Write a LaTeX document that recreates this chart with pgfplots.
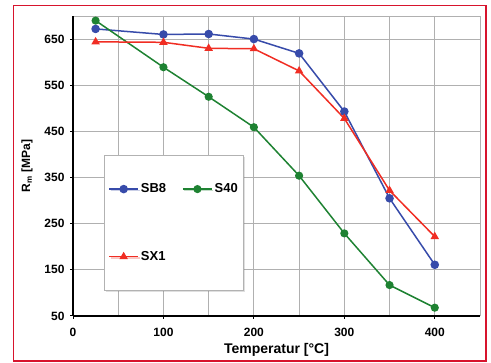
\documentclass[border=0pt]{standalone}
\usepackage{fontspec}
\setmainfont{Liberation Sans}
\usepackage{pgfplots}
\pgfplotsset{compat=1.18}
\usetikzlibrary{shadows}
\definecolor{cblue}{RGB}{55,75,170}
\definecolor{cgreen}{RGB}{30,130,50}
\definecolor{cred}{RGB}{240,45,35}
\definecolor{cframe}{RGB}{215,20,45}
\begin{document}
\begin{tikzpicture}[x=1pt,y=1pt]
\path[use as bounding box] (0,0) rectangle (491,363);
\begin{axis}[at={(73pt,47pt)}, anchor=south west, scale only axis, width=407pt, height=300pt,
  xmin=0, xmax=450, ymin=50, ymax=700,
  axis lines=left, axis line style={black, line width=1.6pt, -},
  xtick={0,100,...,400}, ytick={50,150,...,650},
  minor xtick={50,150,...,450}, minor ytick={700},
  grid=both,
  major grid style={gray!62, line width=0.9pt},
  minor grid style={gray!62, line width=0.9pt},
  tick align=outside, major tick length=3pt, minor tick length=0pt,
  tick style={black, line width=1pt},
  /pgf/number format/assume math mode=true,
  ticklabel style={font=\fontsize{12}{14}\selectfont\bfseries},
  xticklabel style={yshift=-6pt},
  yticklabel style={xshift=-2pt},
  xlabel={Temperatur [°C]},
  ylabel={R\textsubscript{m} [MPa]},
  every axis x label/.style={at={(axis description cs:0.5,-0.113)}, anchor=center, font=\fontsize{14}{16}\selectfont\bfseries},
  every axis y label/.style={at={(axis description cs:-0.113,0.5)}, rotate=90, anchor=center, font=\fontsize{12}{14}\selectfont\bfseries},
  legend image code/.code={\draw[mark repeat=2,mark phase=2] plot coordinates {(0pt,0pt) (14.5pt,0pt) (29pt,0pt)};},
  legend columns=2,
  legend cell align=left,
  legend style={at={(axis description cs:0.0762,0.537)}, anchor=north west,
    draw=gray!60, line width=0.8pt, fill=white,
    font=\fontsize{13}{15}\selectfont\bfseries,
    inner xsep=4pt, inner ysep=26.5pt, row sep=53pt,
    drop shadow={opacity=0.25, shadow xshift=1.5pt, shadow yshift=-1.5pt},
    /tikz/every even column/.append style={column sep=14pt}},
]
\addplot[cblue, line width=1.5pt, mark=*, mark size=3.5pt] coordinates {(25,672)(100,660)(150,661)(200,650)(250,619)(300,493)(350,305)(400,161)};
\addlegendentry{SB8}
\addplot[cgreen, line width=1.5pt, mark=*, mark size=3.3pt] coordinates {(25,690)(100,589)(150,525)(200,459)(250,354)(300,229)(350,117)(400,68)};
\addlegendentry{S40}
\addplot[cred, line width=1.5pt, mark=triangle*, mark size=3.4pt] coordinates {(25,644)(100,643)(150,630)(200,629)(250,581)(300,478)(350,322)(400,222)};
\addlegendentry{SX1}
\end{axis}
\draw[cframe, line width=1.6pt] (13.5,2) rectangle (486,357.5);
\end{tikzpicture}
\end{document}
